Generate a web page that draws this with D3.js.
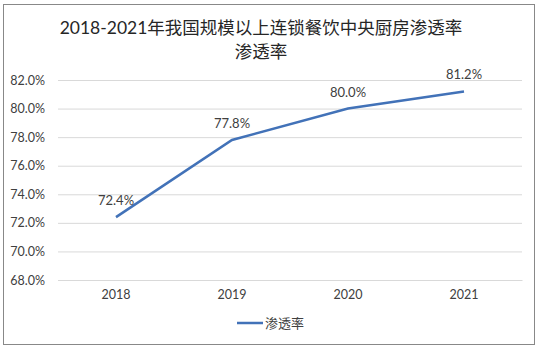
<!DOCTYPE html>
<html>
<head>
<meta charset="utf-8">
<script src="https://cdn.jsdelivr.net/npm/d3@7"></script>
<style>
  body { margin: 0; background: #fff; }
  text { font-family: "Lato", "Noto Sans CJK SC", sans-serif; }
</style>
</head>
<body>
<div id="chart"></div>
<script>
// Data
const years = ["2018", "2019", "2020", "2021"]
const rates = [72.4, 77.8, 80.0, 81.2]
const yTicks = [68, 70, 72, 74, 76, 78, 80, 82]
const titleLines = ["2018-2021年我国规模以上连锁餐饮中央厨房渗透率", "渗透率"]
const seriesName = "渗透率"

const WIDTH = 540
const HEIGHT = 351
const PLOT = {LEFT: 58, RIGHT: 522, TOP: 80, BOTTOM: 280}
const LINE_COLOUR = "#4272b8"

let svg = d3.select("#chart").append("svg")
    .attr("width", WIDTH)
    .attr("height", HEIGHT)

// chart border
svg.append("rect")
    .attr("x", 3.5).attr("y", 4.5)
    .attr("width", 531).attr("height", 340)
    .attr("fill", "#fff")
    .attr("stroke", "#888")
    .attr("stroke-width", 1)

// Scales
let x = d3.scaleBand()
    .domain(years)
    .range([PLOT.LEFT, PLOT.RIGHT])

let y = d3.scaleLinear()
    .domain([68, 82])
    .range([PLOT.BOTTOM, PLOT.TOP])

// Title
svg.append("g")
    .selectAll("text")
    .data(titleLines)
    .enter()
    .append("text")
    .attr("x", 261)
    .attr("y", (d, i) => 34 + i * 24)
    .attr("text-anchor", "middle")
    .attr("font-size", 17.5)
    .attr("fill", "#262626")
    .text(d => d)

// Gridlines + y axis labels
let yAxis = d3.axisLeft(y)
    .tickValues(yTicks)
    .tickSize(-(PLOT.RIGHT - PLOT.LEFT))
    .tickPadding(13)
    .tickFormat(d => d.toFixed(1) + "%")

svg.append("g")
    .attr("transform", `translate(${PLOT.LEFT},0)`)
    .call(yAxis)
    .call(g => g.select(".domain").remove())
    .call(g => g.selectAll("line").attr("stroke", "#d9d9d9").attr("stroke-width", 1))
    .call(g => g.selectAll("text").attr("font-size", 12.5).attr("fill", "#404040").attr("font-family", "Lato, sans-serif"))

// X axis labels
let xAxis = d3.axisBottom(x)
    .tickSize(0)
    .tickPadding(10)

svg.append("g")
    .attr("transform", `translate(0,${PLOT.BOTTOM})`)
    .call(xAxis)
    .call(g => g.select(".domain").attr("stroke", "#d9d9d9"))
    .call(g => g.selectAll("text").attr("font-size", 12.5).attr("fill", "#404040").attr("font-family", "Lato, sans-serif"))

// Line
let line = d3.line()
    .x((d, i) => x(years[i]) + x.bandwidth() / 2)
    .y(d => y(d))

svg.append("path")
    .datum(rates)
    .attr("d", line)
    .attr("fill", "none")
    .attr("stroke", LINE_COLOUR)
    .attr("stroke-width", 2.5)

// Data labels
svg.append("g")
    .selectAll("text")
    .data(rates)
    .enter()
    .append("text")
    .attr("x", (d, i) => x(years[i]) + x.bandwidth() / 2)
    .attr("y", d => y(d) - 12)
    .attr("text-anchor", "middle")
    .attr("font-size", 13)
    .attr("fill", "#404040")
    .text(d => d.toFixed(1) + "%")

// Legend
let legend = svg.append("g").attr("transform", "translate(237,323)")
legend.append("line")
    .attr("x1", 0).attr("x2", 26)
    .attr("stroke", LINE_COLOUR)
    .attr("stroke-width", 2.5)
legend.append("text")
    .attr("x", 28)
    .attr("dy", "0.35em")
    .attr("font-size", 13)
    .attr("fill", "#404040")
    .text(seriesName)
</script>
</body>
</html>
